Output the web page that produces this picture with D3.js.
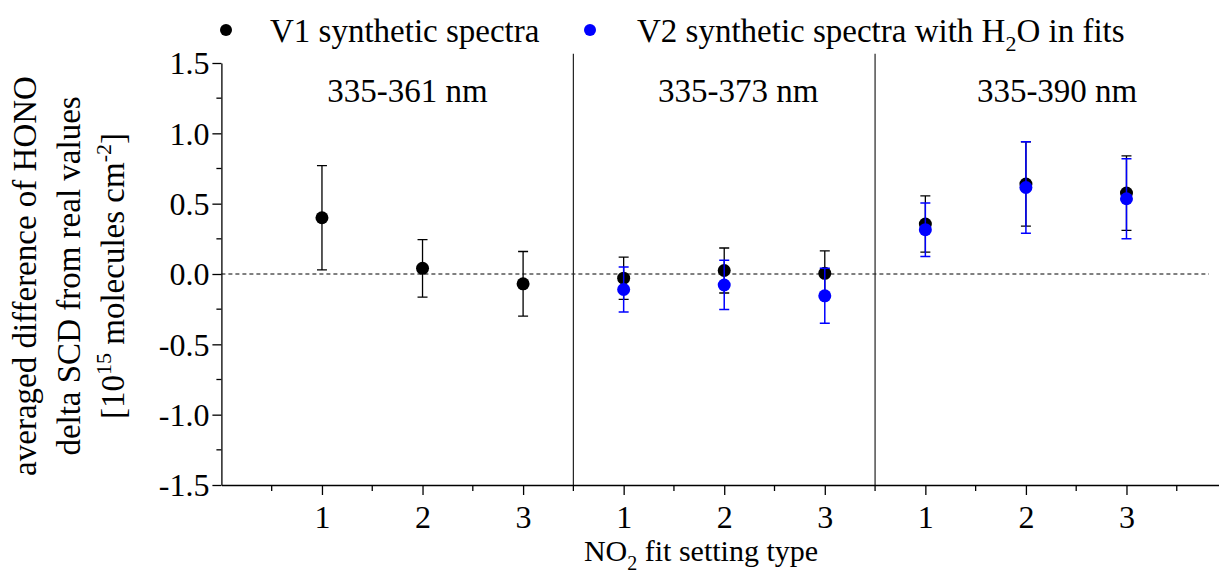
<!DOCTYPE html>
<html>
<head>
<meta charset="utf-8">
<script src="https://cdn.jsdelivr.net/npm/d3@7"></script>
<style>
  body { margin: 0; background: #fff; }
  svg text { font-family: "Liberation Serif", "Times New Roman", serif !important; fill: #000; }
</style>
</head>
<body>
<script>
const WIDTH = 1219
const HEIGHT = 575
const FONT = '"Liberation Serif", "Times New Roman", serif'

// fit windows and the three NO2 fit settings inside each
const windows = ['335-361 nm', '335-373 nm', '335-390 nm']
const windowLabelX = [1.85, 5.14, 8.31]
const dividers = [3.5, 6.5]
const settings = [1, 2, 3]
const positions = [1, 2, 3, 4, 5, 6, 7, 8, 9]

// V1 synthetic spectra
const v1Values = [0.40, 0.04, -0.07, -0.03, 0.025, 0.005, 0.355, 0.64, 0.575]
const v1Errors = [0.37, 0.205, 0.23, 0.15, 0.16, 0.16, 0.20, 0.30, 0.265]
// V2 synthetic spectra with H2O in fits (only the last two windows)
const v2Values = [null, null, null, -0.11, -0.078, -0.155, 0.315, 0.615, 0.535]
const v2Errors = [null, null, null, 0.16, 0.175, 0.195, 0.19, 0.325, 0.285]

const yTicks = [-1.5, -1.0, -0.5, 0.0, 0.5, 1.0, 1.5]
const yMinor = [-1.25, -0.75, -0.25, 0.25, 0.75, 1.25]
const xMinor = [0.5, 1.5, 2.5, 3.5, 4.5, 5.5, 6.5, 7.5, 8.5, 9.5]

const x = d3.scaleLinear().domain([0, 9.92]).range([221.4, 1219])
const y = d3.scaleLinear().domain([-1.5, 1.5]).range([485, 63])

const svg = d3.select(document.body).append('svg')
  .attr('width', WIDTH)
  .attr('height', HEIGHT)
  .attr('font-family', FONT)

// zero line
svg.append('line')
  .attr('x1', x(0)).attr('x2', x(9.82))
  .attr('y1', y(0)).attr('y2', y(0))
  .attr('stroke', '#000')
  .attr('stroke-width', 1)
  .attr('stroke-dasharray', '4,3')

// window dividers
svg.selectAll('line.divider')
  .data(dividers)
  .enter()
  .append('line')
  .attr('class', 'divider')
  .attr('x1', d => x(d)).attr('x2', d => x(d))
  .attr('y1', y(1.565)).attr('y2', y(-1.5))
  .attr('stroke', '#222')
  .attr('stroke-width', 1.2)

// window labels
svg.selectAll('text.window')
  .data(windows)
  .enter()
  .append('text')
  .attr('class', 'window')
  .attr('x', (d, i) => x(windowLabelX[i]))
  .attr('y', 102)
  .attr('text-anchor', 'middle')
  .attr('font-size', 33)
  .text(d => d)

// y axis
const yAxis = svg.append('g')
  .attr('transform', `translate(${x(0)},0)`)
  .call(d3.axisLeft(y).tickValues(yTicks).tickSize(9).tickSizeOuter(0)
    .tickFormat(d => d3.format('.1f')(d).replace('−', '-')))
yAxis.attr('font-family', FONT)
yAxis.selectAll('text').attr('font-size', 32).attr('dy', '0.34em').attr('x', -12)
yAxis.selectAll('line, path').attr('stroke', '#000').attr('stroke-width', 1.3)
yAxis.append('g').selectAll('line')
  .data(yMinor)
  .enter()
  .append('line')
  .attr('x1', -5).attr('x2', 0)
  .attr('y1', d => y(d)).attr('y2', d => y(d))
  .attr('stroke', '#000').attr('stroke-width', 1.3)

// x axis
const xAxis = svg.append('g')
  .attr('transform', `translate(0,${y(-1.5)})`)
  .call(d3.axisBottom(x).tickValues(positions).tickSize(10).tickSizeOuter(0)
    .tickFormat(d => settings[(d - 1) % 3]))
xAxis.attr('font-family', FONT)
xAxis.selectAll('text').attr('font-size', 32).attr('y', 20)
xAxis.selectAll('line, path').attr('stroke', '#000').attr('stroke-width', 1.3)
xAxis.append('g').selectAll('line')
  .data(xMinor)
  .enter()
  .append('line')
  .attr('x1', d => x(d)).attr('x2', d => x(d))
  .attr('y1', 0).attr('y2', 6)
  .attr('stroke', '#000').attr('stroke-width', 1.3)

// axis titles
const xTitle = svg.append('text')
  .attr('x', 701).attr('y', 561)
  .attr('text-anchor', 'middle')
  .attr('font-size', 30)
xTitle.append('tspan').text('NO')
xTitle.append('tspan').attr('font-size', 20).attr('dy', 9).text('2')
xTitle.append('tspan').attr('dy', -9).text(' fit setting type')

const yTitle = svg.append('g').attr('transform', 'translate(0,276) rotate(-90)')
yTitle.append('text').attr('x', 0).attr('y', 36)
  .attr('text-anchor', 'middle').attr('font-size', 33)
  .text('averaged difference of HONO')
yTitle.append('text').attr('x', 0).attr('y', 80)
  .attr('text-anchor', 'middle').attr('font-size', 33)
  .text('delta SCD from real values')
const yLine3 = yTitle.append('text').attr('x', 0).attr('y', 124)
  .attr('text-anchor', 'middle').attr('font-size', 33)
yLine3.append('tspan').text('[10')
yLine3.append('tspan').attr('font-size', 22).attr('dy', -13).text('15')
yLine3.append('tspan').attr('dy', 13).text(' molecules cm')
yLine3.append('tspan').attr('font-size', 22).attr('dy', -13).text('-2')
yLine3.append('tspan').attr('dy', 13).text(']')

// series
function drawSeries(values, errors, color, barWidth) {
  const pts = positions.map((p, i) => ({ p, v: values[i], e: errors[i] }))
    .filter(d => d.v !== null)
  const g = svg.append('g')
  g.selectAll('path')
    .data(pts)
    .enter()
    .append('path')
    .attr('d', d => {
      const cx = x(d.p)
      const top = y(d.v + d.e)
      const bot = y(d.v - d.e)
      return `M${cx},${top}V${bot}M${cx - 5},${top}H${cx + 5}M${cx - 5},${bot}H${cx + 5}`
    })
    .attr('fill', 'none')
    .attr('stroke', color)
    .attr('stroke-width', barWidth)
  g.selectAll('circle')
    .data(pts)
    .enter()
    .append('circle')
    .attr('cx', d => x(d.p))
    .attr('cy', d => y(d.v))
    .attr('r', 6.5)
    .attr('fill', color)
}
drawSeries(v1Values, v1Errors, '#000', 1.3)
drawSeries(v2Values, v2Errors, '#0000ff', 1.5)

// legend
const legend = svg.append('g')
legend.append('circle').attr('cx', 226).attr('cy', 30).attr('r', 6).attr('fill', '#000')
legend.append('text').attr('x', 270).attr('y', 42).attr('font-size', 33).text('V1 synthetic spectra')
legend.append('circle').attr('cx', 590).attr('cy', 30).attr('r', 6).attr('fill', '#0000ff')
const lt2 = legend.append('text').attr('x', 637).attr('y', 42).attr('font-size', 33)
lt2.append('tspan').text('V2 synthetic spectra with H')
lt2.append('tspan').attr('font-size', 22).attr('dy', 9).text('2')
lt2.append('tspan').attr('dy', -9).text('O in fits')
</script>
</body>
</html>
